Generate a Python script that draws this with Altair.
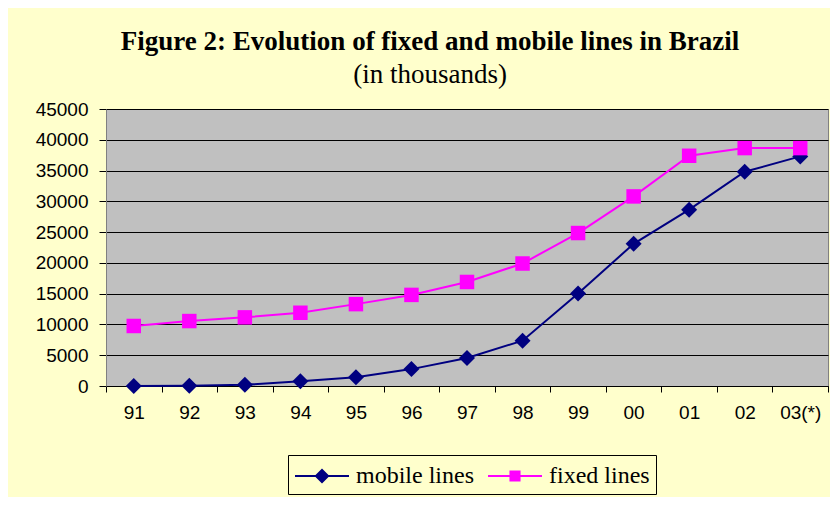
import altair as alt
import pandas as pd

years = ["91", "92", "93", "94", "95", "96", "97", "98", "99", "00", "01", "02", "03(*)"]
mobile_lines = [7, 32, 191, 755, 1416, 2744, 4550, 7368, 15033, 23100, 28650, 34800, 37300]
fixed_lines = [9750, 10550, 11150, 11900, 13300, 14800, 16900, 19900, 24850, 30800, 37400, 38650, 38650]
series_names = ["mobile lines", "fixed lines"]
series_colors = ["#000080", "#FF00FF"]
y_ticks = [0, 5000, 10000, 15000, 20000, 25000, 30000, 35000, 40000, 45000]

rows = []
for yr, m, f in zip(years, mobile_lines, fixed_lines):
    rows.append({"year": yr, "series": "mobile lines", "value": m})
    rows.append({"year": yr, "series": "fixed lines", "value": f})
df = pd.DataFrame(rows)

# legend symbols: marker with line stubs (custom symbol paths)
legend_diamond = ("M-1.8,-0.07L-0.45,-0.07L-0.45,0.07L-1.8,0.07Z "
                  "M0,-0.5L0.5,0L0,0.5L-0.5,0Z "
                  "M0.45,-0.07L1.8,-0.07L1.8,0.07L0.45,0.07Z")
legend_square = ("M-1.8,-0.07L-0.3,-0.07L-0.3,0.07L-1.8,0.07Z "
                 "M-0.37,-0.37L0.37,-0.37L0.37,0.37L-0.37,0.37Z "
                 "M0.3,-0.07L1.8,-0.07L1.8,0.07L0.3,0.07Z")

color_scale = alt.Scale(domain=series_names, range=series_colors)

x_enc = alt.X(
    "year:N", sort=years, bandPosition=0.5,
    scale=alt.Scale(type="band", paddingInner=0, paddingOuter=0),
    axis=alt.Axis(title=None, labelAngle=0, tickBand="extent", grid=False,
                  labelFont="Liberation Sans", labelFontSize=19, labelColor="black",
                  tickSize=6, tickColor="black", domainColor="black",
                  labelPadding=11),
)
y_enc = alt.Y(
    "value:Q", scale=alt.Scale(domain=[0, 45000], nice=False),
    axis=alt.Axis(title=None, values=y_ticks, format="d", grid=True, gridColor="black",
                  gridOpacity=1, gridWidth=1, labelFont="Liberation Sans",
                  labelFontSize=19, labelColor="black", tickSize=7,
                  tickColor="black", domainColor="#808080", labelPadding=11),
)

base = alt.Chart(df)

legend_props = dict(
    orient="none", legendX=182, legendY=346, direction="horizontal", title=None,
    labelFont="Liberation Serif", labelFontSize=24, labelColor="black",
    strokeColor="black", fillColor="#FFFFCC", padding=6,
    symbolSize=900, symbolOffset=13, labelOffset=19, columnPadding=13,
    symbolStrokeWidth=0, symbolOpacity=1,
)

# invisible layer that carries the legend
legend_layer = base.mark_point(filled=True, opacity=0, size=1).encode(
    x=x_enc, y=y_enc,
    color=alt.Color("series:N", scale=color_scale, legend=alt.Legend(**legend_props)),
    shape=alt.Shape("series:N",
                    scale=alt.Scale(domain=series_names, range=[legend_diamond, legend_square]),
                    legend=alt.Legend(**legend_props)),
)

lines = base.mark_line(strokeWidth=2).encode(
    x=x_enc, y=y_enc,
    color=alt.Color("series:N", scale=color_scale, legend=None),
)

mobile_pts = base.transform_filter(alt.datum.series == "mobile lines").mark_point(
    shape="diamond", filled=True, size=256, opacity=1
).encode(
    x=x_enc, y=y_enc,
    color=alt.Color("series:N", scale=color_scale, legend=None),
)

fixed_pts = base.transform_filter(alt.datum.series == "fixed lines").mark_point(
    shape="square", filled=True, size=210, opacity=1
).encode(
    x=x_enc, y=y_enc,
    color=alt.Color("series:N", scale=color_scale, legend=None),
)

chart = alt.layer(legend_layer, lines, mobile_pts, fixed_pts).properties(
    width=722,
    height=277,
    autosize=alt.AutoSizeParams(type="none"),
    padding={"left": 98, "top": 101, "right": 2, "bottom": 111},
    background="#FFFFCC",
    title=alt.TitleParams(
        text="Figure 2: Evolution of fixed and mobile lines in Brazil",
        subtitle="(in thousands)",
        font="Liberation Serif", fontSize=27, fontWeight="bold", color="black",
        subtitleFont="Liberation Serif", subtitleFontSize=27, subtitleColor="black",
        subtitleFontWeight="normal",
        anchor="middle", dx=-37, offset=11, subtitlePadding=6,
    ),
).configure_view(fill="#C0C0C0", stroke="#808080", strokeWidth=1)

chart.save("out.html", embed_options={"renderer": "svg", "actions": False})
